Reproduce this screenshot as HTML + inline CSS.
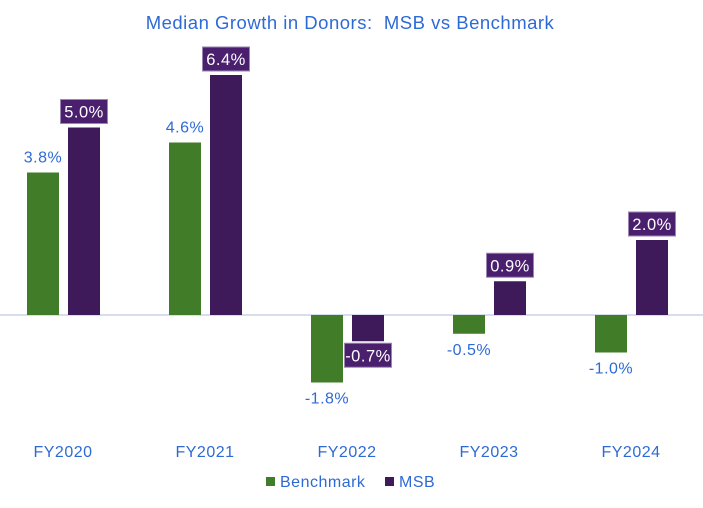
<!DOCTYPE html>
<html><head><meta charset="utf-8"><style>
body{margin:0;background:#fff;font-family:"Liberation Sans",sans-serif}
svg text{font-family:"Liberation Sans",sans-serif;letter-spacing:0.5px}
</style></head><body>
<svg width="703" height="503" id="c">
<text x="350" y="29" text-anchor="middle" font-size="18.5" fill="#2e6ad6" xml:space="preserve">Median Growth in Donors:  MSB vs Benchmark</text>
<line x1="0" x2="703" y1="315" y2="315" stroke="#c9d4e6" stroke-width="1.5"/>
<g>
<rect x="266" y="477" width="9" height="9" fill="#417c28"/>
<text x="280" y="487" font-size="16" fill="#2e6ad6">Benchmark</text>
<rect x="385" y="477" width="9" height="9" fill="#3f1a5a"/>
<text x="399" y="487" font-size="16" fill="#2e6ad6">MSB</text>
</g>
</svg>
<script>
const categories=["FY2020","FY2021","FY2022","FY2023","FY2024"];
const benchmark=[3.8,4.6,-1.8,-0.5,-1.0];
const msb=[5.0,6.4,-0.7,0.9,2.0];
const svg=document.getElementById('c');
const NS='http://www.w3.org/2000/svg';
const y=v=>315-v*37.5;
const cx=i=>63+i*142;
function mk(t,a){const e=document.createElementNS(NS,t);for(const k in a)e.setAttribute(k,a[k]);svg.appendChild(e);return e;}
categories.forEach((c,i)=>{
 const t=mk('text',{x:cx(i),y:457,'text-anchor':'middle','font-size':16,fill:'#2e6ad6'});t.textContent=c;
 
 
 const b=benchmark[i];
 const r=mk('rect',{x:cx(i)-36,y:Math.min(y(b),315),width:32,height:Math.abs(y(b)-315),fill:'#417c28'});
 
 
 const bl=mk('text',{x:cx(i)-20,y:b>=0?y(b)-10:y(b)+21,'text-anchor':'middle','font-size':16,fill:'#2e6ad6'});
 bl.textContent=b.toFixed(1)+'%';
 
 
 const m=msb[i];
 const r2=mk('rect',{x:cx(i)+5,y:Math.min(y(m),315),width:32,height:Math.abs(y(m)-315),fill:'#3f1a5a'});
 
 
 const by=m>=0?y(m)-28:y(m)+2;
 const bx=mk('rect',{x:cx(i)+21-23.5,y:by,width:47,height:24,fill:'#4a1f6e',stroke:'#9a86b0','stroke-width':1});
 
 
 const ml=mk('text',{x:cx(i)+21,y:by+18,'text-anchor':'middle','font-size':16.5,fill:'#fff'});
 ml.textContent=m.toFixed(1)+'%';
 
 
});
</script>
</body></html>
